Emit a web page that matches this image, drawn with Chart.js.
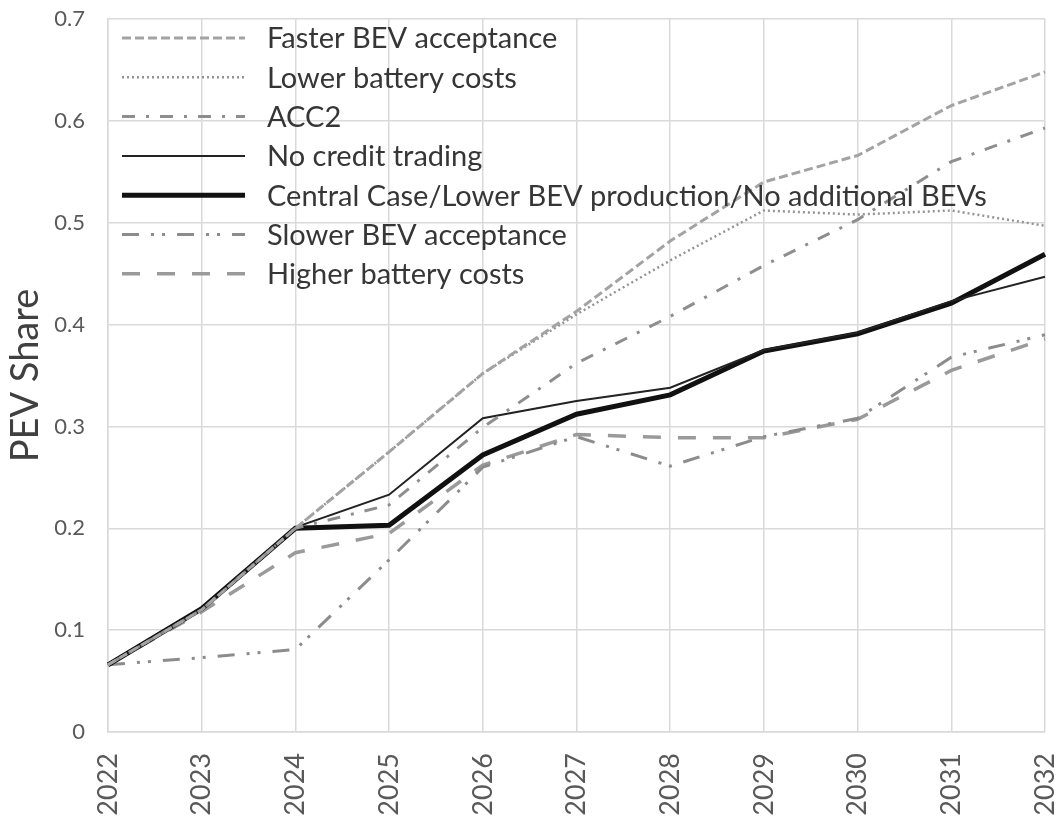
<!DOCTYPE html>
<html>
<head>
<meta charset="utf-8">
<script src="https://cdn.jsdelivr.net/npm/chart.js@4.4.1/dist/chart.umd.min.js"></script>
<style>
  html, body { margin: 0; padding: 0; background: #ffffff; }
  #wrap { width: 1061px; height: 823px; }
</style>
</head>
<body>
<div id="wrap"><canvas id="pevChart" width="1061" height="823"></canvas></div>
<script>
// years on the x axis
var years = ["2022", "2023", "2024", "2025", "2026", "2027", "2028", "2029", "2030", "2031", "2032"];

// PEV share per scenario
var fasterBev   = [0.066, 0.120, 0.200, 0.275, 0.352, 0.413, 0.482, 0.540, 0.566, 0.615, 0.648];
var lowerBatt   = [0.066, 0.120, 0.200, 0.275, 0.352, 0.410, 0.463, 0.512, 0.508, 0.512, 0.497];
var acc2        = [0.066, 0.120, 0.200, 0.223, 0.299, 0.362, 0.408, 0.458, 0.503, 0.560, 0.593];
var noCredit    = [0.066, 0.121, 0.201, 0.233, 0.308, 0.325, 0.338, 0.375, 0.392, 0.423, 0.447];
var centralCase = [0.066, 0.121, 0.200, 0.203, 0.272, 0.312, 0.331, 0.374, 0.391, 0.421, 0.469];
var slowerBev   = [0.066, 0.073, 0.081, 0.169, 0.260, 0.290, 0.261, 0.290, 0.308, 0.368, 0.390];
var higherBatt  = [0.066, 0.118, 0.176, 0.195, 0.262, 0.292, 0.289, 0.289, 0.307, 0.355, 0.386];

var seriesNames = [
    "Faster BEV acceptance",
    "Lower battery costs",
    "ACC2",
    "No credit trading",
    "Central Case/Lower BEV production/No additional BEVs",
    "Slower BEV acceptance",
    "Higher battery costs"
];

var yTicks = [0, 0.1, 0.2, 0.3, 0.4, 0.5, 0.6, 0.7];

var gridColor = '#d9d9d9';
var textColor = '#595959';

function line(label, data, color, width, dash) {
    return {
        label: label,
        data: data,
        borderColor: color,
        backgroundColor: color,
        borderWidth: width,
        borderDash: dash,
        pointRadius: 0,
        pointHoverRadius: 0,
        tension: 0,
        fill: false
    };
}

// legend drawn inside the plot area, top left, no background
var insideLegend = {
    id: 'insideLegend',
    afterDatasetsDraw: function (chart) {
        var ctx = chart.ctx;
        var area = chart.chartArea;
        var x0 = area.left + 14;
        var lineLen = 123;
        var rowH = 39.3;
        ctx.save();
        ctx.font = '29px Lato';
        ctx.textBaseline = 'middle';
        ctx.textAlign = 'left';
        chart.data.datasets.forEach(function (ds, i) {
            var y = area.top + 19 + i * rowH;
            ctx.beginPath();
            ctx.strokeStyle = ds.borderColor;
            ctx.lineWidth = ds.borderWidth;
            ctx.setLineDash(ds.borderDash || []);
            ctx.moveTo(x0, y);
            ctx.lineTo(x0 + lineLen, y);
            ctx.stroke();
            ctx.setLineDash([]);
            ctx.fillStyle = '#363636';
            ctx.fillText(ds.label, x0 + lineLen + 22, y + 1);
        });
        ctx.restore();
    }
};

var ctx = document.getElementById('pevChart').getContext('2d');
var pevChart = new Chart(ctx, {
    type: 'line',
    data: {
        labels: years,
        datasets: [
            line(seriesNames[0], fasterBev, '#a3a3a3', 3, [9, 4]),
            line(seriesNames[1], lowerBatt, '#949494', 2.5, [2, 3]),
            line(seriesNames[2], acc2, '#8e8e8e', 3, [13, 11, 3, 11]),
            line(seriesNames[3], noCredit, '#222222', 2, []),
            line(seriesNames[4], centralCase, '#111111', 5, []),
            line(seriesNames[5], slowerBev, '#8c8c8c', 3, [17, 12, 3, 8, 3, 12]),
            line(seriesNames[6], higherBatt, '#9a9a9a', 3.5, [18, 17])
        ]
    },
    options: {
        responsive: false,
        animation: false,
        layout: { padding: { top: 19, right: 16, left: 0, bottom: 0 } },
        plugins: {
            legend: { display: false },
            tooltip: { enabled: false }
        },
        scales: {
            x: {
                grid: { color: gridColor, lineWidth: 1.5, drawTicks: false },
                border: { color: gridColor, width: 1.5 },
                ticks: {
                    color: textColor,
                    font: { family: 'Lato', size: 27 },
                    minRotation: 90,
                    maxRotation: 90,
                    padding: 21,
                    autoSkip: false
                },
                afterFit: function (scale) {
                    scale.height = 91;
                    scale.paddingLeft = 0;
                    scale.paddingRight = 0;
                }
            },
            y: {
                min: 0,
                max: 0.7,
                afterBuildTicks: function (scale) {
                    scale.ticks = yTicks.map(function (v) { return { value: v }; });
                },
                grid: { color: gridColor, lineWidth: 1.5, drawTicks: false },
                border: { color: gridColor, width: 1.5 },
                ticks: {
                    color: textColor,
                    font: { family: 'Lato', size: 22 },
                    padding: 23,
                    callback: function (v) { return String(Math.round(v * 10) / 10); }
                },
                title: {
                    display: true,
                    text: 'PEV Share',
                    color: '#404040',
                    font: { family: 'Lato', size: 38 },
                    padding: { top: 3, bottom: 0 }
                },
                afterFit: function (scale) {
                    scale.width = 108;
                    scale.paddingTop = 0;
                    scale.paddingBottom = 0;
                }
            }
        }
    },
    plugins: [insideLegend]
});
</script>
</body>
</html>
